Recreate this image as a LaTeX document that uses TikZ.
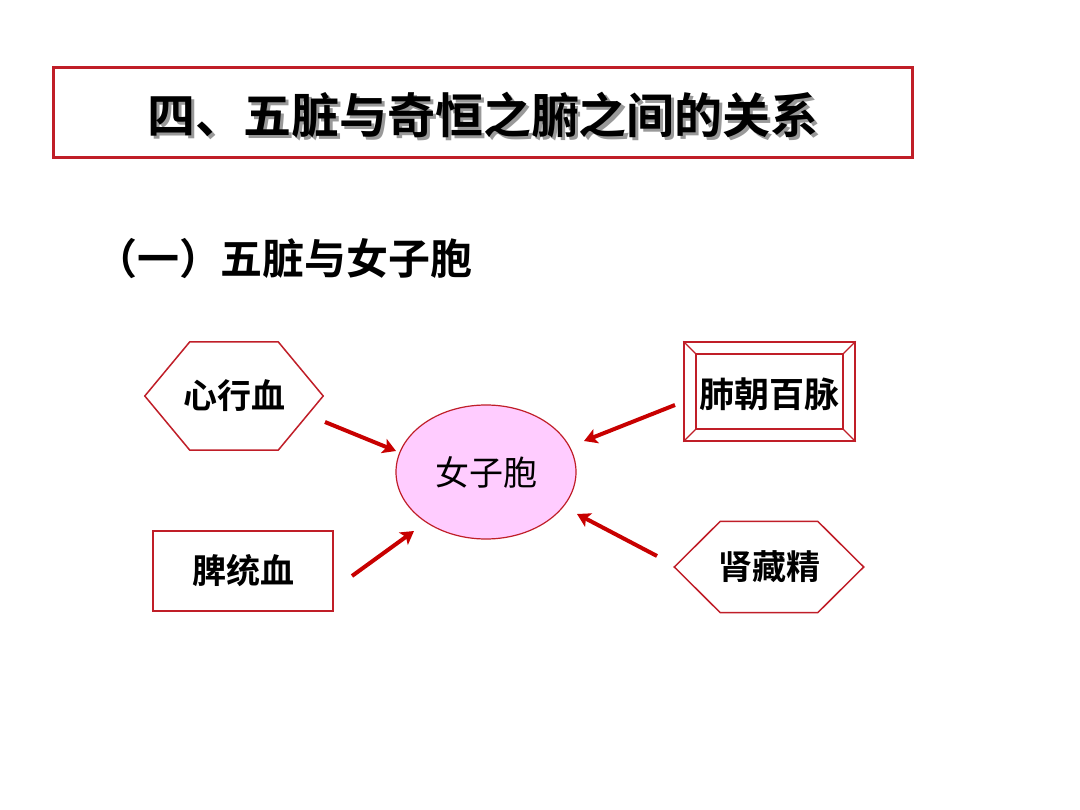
\documentclass[tikz,border=0pt]{standalone}
\usepackage{fontspec}
\newfontfamily\cjk{Noto Sans CJK SC}[BoldFont={Noto Sans CJK SC Bold}]
\usetikzlibrary{arrows.meta,shapes.geometric}
\definecolor{boxred}{RGB}{192,30,40}
\definecolor{arrred}{RGB}{200,0,0}
\definecolor{pinkfill}{RGB}{255,204,255}
\newcommand{\titletext}{四、五脏与奇恒之腑之间的关系}
\tikzset{
  lbl/.style={font=\cjk\bfseries\fontsize{34}{40}\selectfont, inner sep=0pt},
  edgebox/.style={draw=boxred, line width=1.5pt},
  conn/.style={draw=arrred, line width=4pt, -{Stealth[length=13pt,width=15pt,inset=3pt]}},
}
\begin{document}
\begin{tikzpicture}[x=1pt,y=-1pt]
\useasboundingbox (0,0) rectangle (1080,810);
\fill[white] (0,0) rectangle (1080,810);
% title
\node[draw=boxred, line width=3pt, minimum width=859pt, minimum height=90pt, inner sep=0pt] (titlebox) at (482.5,113) {};
\node[font=\cjk\bfseries\fontsize{48}{58}\selectfont, inner sep=0pt] (title) at (483,117) {\rlap{\hspace{3pt}\raisebox{-3pt}{\textcolor{black!40}{\titletext}}}\titletext};
% subtitle
\node[font=\cjk\bfseries\fontsize{42}{50}\selectfont, inner sep=0pt] (sub) at (284,259) {（一）五脏与女子胞};
% center ellipse
\node[ellipse, draw=boxred, line width=1.2pt, fill=pinkfill, minimum width=180pt, minimum height=134pt, inner sep=0pt, font=\cjk\fontsize{34}{40}\selectfont] (womb) at (486,472) {女子胞};
% hexagon heart
\node[lbl, minimum width=178pt, minimum height=108pt] (heart) at (234,396) {心行血};
\draw[edgebox] (heart.west) -- ([xshift=45pt]heart.north west) -- ([xshift=-45pt]heart.north east) -- (heart.east) -- ([xshift=-45pt]heart.south east) -- ([xshift=45pt]heart.south west) -- cycle;
% rectangle spleen
\node[lbl, edgebox, minimum width=180pt, minimum height=80pt] (spleen) at (243,571) {脾统血};
% bevel box lung
\node[draw=boxred, line width=1.3pt, minimum width=171pt, minimum height=99pt, inner sep=0pt] (lungout) at (769.5,391.5) {};
\node[draw=boxred, line width=1.3pt, minimum width=147pt, minimum height=75pt, inner sep=0pt] (lungin) at (769.5,391.5) {};
\draw[boxred, line width=1.3pt] (lungout.north west) -- (lungin.north west)
  (lungout.north east) -- (lungin.north east)
  (lungout.south west) -- (lungin.south west)
  (lungout.south east) -- (lungin.south east);
\node[lbl, font=\cjk\bfseries\fontsize{35}{40}\selectfont] (lung) at (769.5,394) {肺朝百脉};
% hexagon kidney
\node[lbl, minimum width=189pt, minimum height=91pt] (kidney) at (769,567) {肾藏精};
\draw[edgebox] (kidney.west) -- ([xshift=46pt]kidney.north west) -- ([xshift=-46pt]kidney.north east) -- (kidney.east) -- ([xshift=-46pt]kidney.south east) -- ([xshift=46pt]kidney.south west) -- cycle;
% arrows
\coordinate (a1s) at (325,422); \coordinate (a1e) at (396,451);
\coordinate (a2s) at (352,576); \coordinate (a2e) at (414,531);
\coordinate (a3s) at (675,405); \coordinate (a3e) at (584,441);
\coordinate (a4s) at (657,556); \coordinate (a4e) at (577,514);
\draw[conn] (a1s) -- (a1e);
\draw[conn] (a2s) -- (a2e);
\draw[conn] (a3s) -- (a3e);
\draw[conn] (a4s) -- (a4e);
\end{tikzpicture}
\end{document}
